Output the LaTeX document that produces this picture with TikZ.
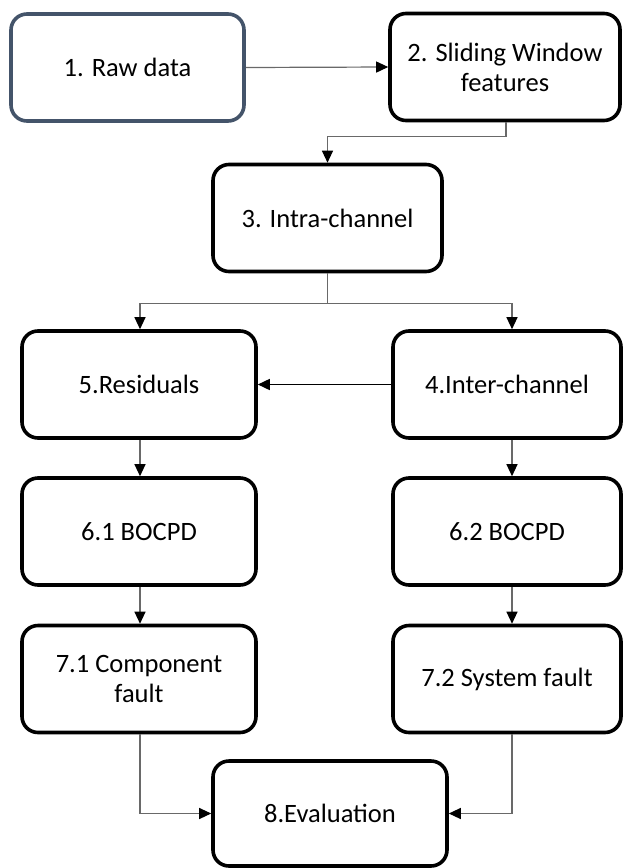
\documentclass[tikz,border=0pt]{standalone}
\usepackage{fontspec}
\setmainfont{Carlito}
\usetikzlibrary{arrows.meta}
\definecolor{slate}{RGB}{68,84,106}
\definecolor{wire}{RGB}{105,105,105}
\begin{document}
\begin{tikzpicture}[x=1pt,y=-1pt,
  box/.style={draw=black, line width=3.6pt, rounded corners=16pt, fill=white,
    align=center, inner sep=0pt, font=\fontsize{26.5}{30}\selectfont,
    minimum height=107pt},
  link/.style={draw=wire, line width=1.2pt,
    -{Triangle[width=11pt,length=12pt,color=black]}},
  strong/.style={draw=black, line width=1.6pt,
    -{Triangle[width=11pt,length=12pt,color=black]}}
]
\useasboundingbox (0,0) rectangle (624,868);

% boxes of the pipeline
\node[box, draw=slate, minimum width=233pt] (n1)  at (127.5,67.5) {1. Raw data};
\node[box, minimum width=230pt] (n2)  at (505,67)    {2. Sliding Window\\features};
\node[box, minimum width=229pt] (n3)  at (327.5,218) {3. Intra-channel};
\node[box, minimum width=234pt] (n5)  at (139,384.5) {5.Residuals};
\node[box, minimum width=228pt] (n4)  at (507,384.5) {4.Inter-channel};
\node[box, minimum width=234pt] (n61) at (139,531.5) {6.1 BOCPD};
\node[box, minimum width=228pt] (n62) at (507,531.5) {6.2 BOCPD};
\node[box, minimum width=234pt] (n71) at (139,679)   {7.1 Component\\fault};
\node[box, minimum width=228pt] (n72) at (507,679)   {7.2 System fault};
\node[box, minimum width=234pt, minimum height=105pt] (n8) at (330,813.5) {8.Evaluation};

% connectors
\draw[link] (n1.east) -- (n2.west);
\draw[link] ([xshift=1pt]n2.south) -- ++(0,14) -| (n3.north);
\draw[draw=wire, line width=1.2pt] (n3.south) -- ++(0,30) coordinate (split);
\draw[link] (split) -| ([xshift=1pt]n5.north);
\draw[link] (split) -| ([xshift=5pt]n4.north);
\draw[strong] (n4.west) -- (n5.east);
\draw[link] ([xshift=1pt]n5.south) -- ([xshift=1pt]n61.north);
\draw[link] ([xshift=5pt]n4.south) -- ([xshift=5pt]n62.north);
\draw[link] ([xshift=1pt]n61.south) -- ([xshift=1pt]n71.north);
\draw[link] ([xshift=5pt]n62.south) -- ([xshift=5pt]n72.north);
\draw[link] ([xshift=1pt]n71.south) |- (n8.west);
\draw[link] ([xshift=5pt]n72.south) |- (n8.east);
\end{tikzpicture}
\end{document}
